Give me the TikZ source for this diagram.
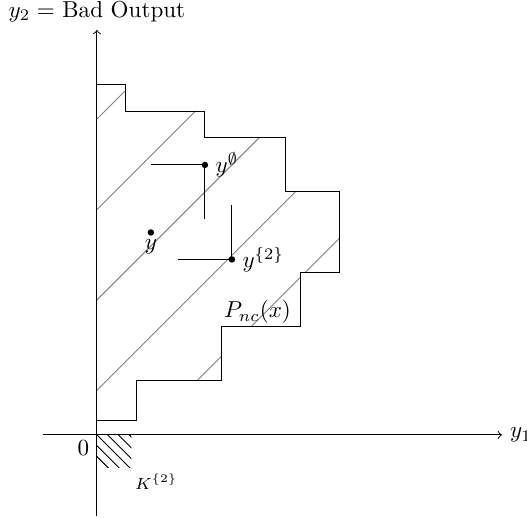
\documentclass[tikz,border=0pt]{standalone}
\usetikzlibrary{positioning}
\tikzset{
  dot/.style={circle,fill,inner sep=0pt,minimum size=2.8pt},
  hatch/.style={gray,thin}
}
\begin{document}
\begin{tikzpicture}[x=11.7pt,y=11.7pt]
\useasboundingbox (-3.59,-3.04) rectangle (15.93,16.11);
\def\Pnc{(0,13)--(1.04,13)--(1.04,12)--(4,12)--(4,11)--(7,11)--(7,9)--(9,9)--(9,6)--(7.55,6)--(7.55,4)--(4.62,4)--(4.62,2)--(1.45,2)--(1.45,0.52)--(0,0.52)--cycle}
% hatched set
\begin{scope}
  \clip \Pnc;
  \foreach \d in {11.7,8.35,5,1.65,-1.7}
    {\draw[hatch] (-1,{\d-1})--(10,{\d+10});}
\end{scope}
\draw \Pnc;
% cone
\begin{scope}
  \clip (0,0) rectangle (1.28,-1.22);
  \foreach \k in {1.2,0.8,0.4,0,-0.4,-0.8}
    {\draw ({\k-0.5},0.5)--({\k+2},-2);}
\end{scope}
% axes
\coordinate (xmin) at (-2,0);
\coordinate (xmax) at (15,0);
\coordinate (ymin) at (0,-3);
\coordinate (ymax) at (0,15);
\draw[->] (xmin)--(xmax);
\draw[->] (ymin)--(ymax);
\node[right] (ylab1) at (xmax) {$y_1$};
\node[above] (ylab2) at (ymax) {$y_2 =$ Bad Output};
\node (orig) at (-0.5,-0.5) {$0$};
\node[font=\scriptsize] (klab) at (2.2,-1.72) {$K^{\{2\}}$};
\node (pnc) at (5.95,4.55) {$P_{nc}(x)$};
% points
\node[dot] (yempty) at (4,10) {};
\node[dot] (ytwo) at (5,6.5) {};
\node[dot] (ypt) at (2,7.5) {};
\node[right=-0.5pt of yempty] (lempty) {$y^{\emptyset}$};
\node[right=-0.5pt of ytwo] (ltwo) {$y^{\{2\}}$};
\node[below=-2pt of ypt] (lpt) {$y$};
\coordinate (hempty) at (2,10);
\coordinate (vempty) at (4,8);
\coordinate (htwo) at (3,6.5);
\coordinate (vtwo) at (5,8.5);
\draw (hempty)--(yempty.center)--(vempty);
\draw (htwo)--(ytwo.center)--(vtwo);
\end{tikzpicture}
\end{document}
